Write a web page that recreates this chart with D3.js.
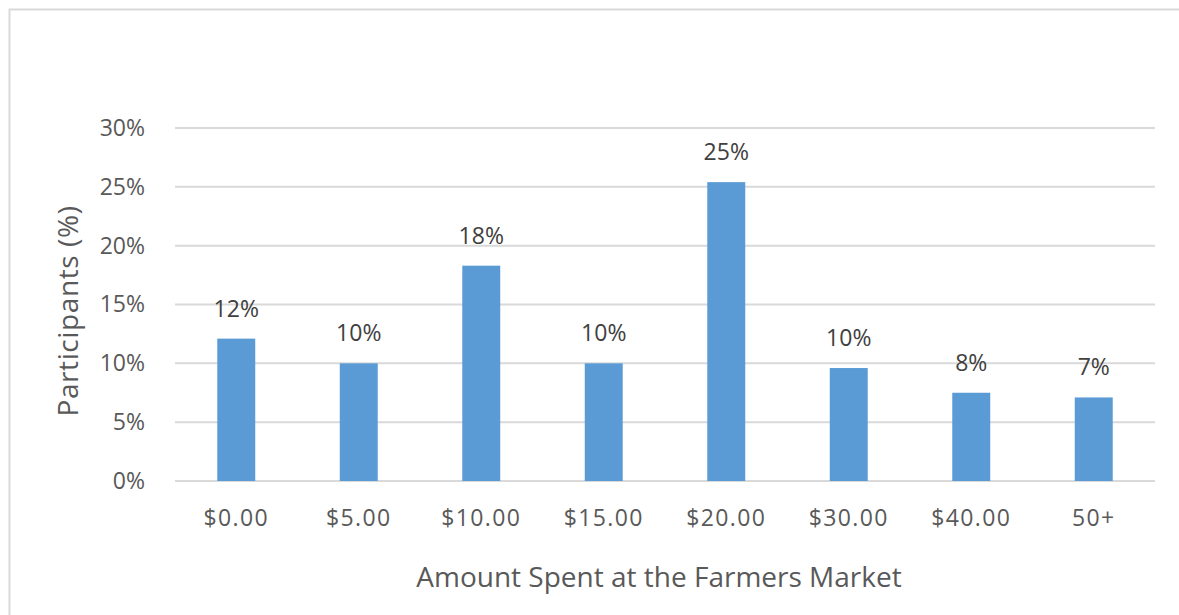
<!DOCTYPE html>
<html>
<head>
<meta charset="utf-8">
<script src="https://cdn.jsdelivr.net/npm/d3@7"></script>
<style>
    html, body { margin: 0; padding: 0; background: #fff; }
    text { font-family: "Open Sans", sans-serif; }
</style>
</head>
<body>
<div id="chart"></div>
<script>
/*
 * Chart data.
 */
var categories = ['$0.00', '$5.00', '$10.00', '$15.00', '$20.00', '$30.00', '$40.00', '50+'];
var values = [12.1, 10.0, 18.3, 10.0, 25.4, 9.6, 7.5, 7.1];
var yTicks = [0, 5, 10, 15, 20, 25, 30];
var xTitle = 'Amount Spent at the Farmers Market';
var yTitle = 'Participants (%)';

/*
 * Dimensions.
 */
var width = 1179, height = 615;
var margin = { top: 128, right: 24, bottom: 134, left: 175 };
var innerWidth = width - margin.left - margin.right;
var innerHeight = height - margin.top - margin.bottom;

var svg = d3.select('#chart').append('svg')
    .attr('width', width)
    .attr('height', height);

/*
 * Chart frame.
 */
svg.append('path')
    .attr('d', 'M9.5,' + height + 'V9.5H' + width)
    .attr('fill', 'none')
    .attr('stroke', '#d9d9d9')
    .attr('stroke-width', 2);

var g = svg.append('g')
    .attr('transform', 'translate(' + margin.left + ',' + margin.top + ')');

/*
 * Scales.
 */
var x = d3.scaleBand()
    .domain(categories)
    .range([0, innerWidth])
    .paddingInner(0.69)
    .paddingOuter(0.345);

var y = d3.scaleLinear()
    .domain([0, 30])
    .range([innerHeight, 0]);

/*
 * Gridlines.
 */
g.append('g')
    .selectAll('line')
    .data(yTicks)
    .join('line')
    .attr('x1', 0)
    .attr('x2', innerWidth)
    .attr('y1', d => y(d))
    .attr('y2', d => y(d))
    .attr('stroke', '#d9d9d9')
    .attr('stroke-width', 2);

/*
 * Y axis labels.
 */
var yAxis = g.append('g')
    .attr('transform', 'translate(-27,0)')
    .call(d3.axisLeft(y).tickValues(yTicks).tickSize(0).tickFormat(d => d + '%'))
    .attr('font-size', 23)
    .attr('font-family', '"Open Sans", sans-serif');
yAxis.select('.domain').remove();
yAxis.selectAll('text')
    .attr('fill', '#595959');

/*
 * X axis labels.
 */
var xAxis = g.append('g')
    .attr('transform', 'translate(0,' + innerHeight + ')')
    .call(d3.axisBottom(x).tickSize(0).tickPadding(29))
    .attr('font-size', 23)
    .attr('font-family', '"Open Sans", sans-serif');
xAxis.select('.domain').remove();
xAxis.selectAll('text')
    .attr('fill', '#595959')
    .style('letter-spacing', '1.4px');

/*
 * Bars.
 */
g.append('g')
    .selectAll('rect')
    .data(values)
    .join('rect')
    .attr('x', (d, i) => x(categories[i]))
    .attr('y', d => y(d))
    .attr('width', x.bandwidth())
    .attr('height', d => innerHeight - y(d))
    .attr('fill', '#5b9bd5');

/*
 * Data labels.
 */
g.append('g')
    .selectAll('text')
    .data(values)
    .join('text')
    .attr('x', (d, i) => x(categories[i]) + x.bandwidth() / 2)
    .attr('y', d => y(d) - 22)
    .attr('text-anchor', 'middle')
    .attr('fill', '#404040')
    .style('font-size', '23px')
    .text(d => Math.round(d) + '%');

/*
 * Axis titles.
 */
svg.append('text')
    .attr('x', 659)
    .attr('y', 587)
    .attr('text-anchor', 'middle')
    .attr('fill', '#595959')
    .style('font-size', '28px')
    .text(xTitle);

svg.append('text')
    .attr('transform', 'translate(78,311) rotate(-90)')
    .attr('text-anchor', 'middle')
    .attr('fill', '#595959')
    .style('font-size', '28px')
    .style('letter-spacing', '0.6px')
    .text(yTitle);
</script>
</body>
</html>
